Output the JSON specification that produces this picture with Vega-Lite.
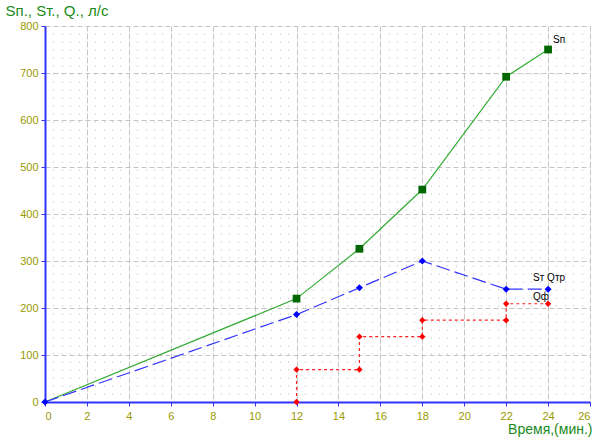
{
  "$schema": "https://vega.github.io/schema/vega-lite/v6.json",
  "width": 545,
  "height": 376,
  "autosize": {"type": "none"},
  "padding": {"left": 45, "top": 26, "right": 14, "bottom": 39},
  "background": "white",
  "config": {
    "view": {"stroke": null},
    "font": "Liberation Sans"
  },
  "resolve": {"axis": {"x": "independent"}},
  "datasets": {
    "pts": [
      {"series": "Sп", "order": 1, "t": 0, "v": 0, "marker": false},
      {"series": "Sп", "order": 2, "t": 12, "v": 220, "marker": true},
      {"series": "Sп", "order": 3, "t": 15, "v": 326, "marker": true},
      {"series": "Sп", "order": 4, "t": 18, "v": 452, "marker": true},
      {"series": "Sп", "order": 5, "t": 22, "v": 692, "marker": true},
      {"series": "Sп", "order": 6, "t": 24, "v": 750, "marker": true},
      {"series": "Sт", "order": 1, "t": 0, "v": 0, "marker": true},
      {"series": "Sт", "order": 2, "t": 12, "v": 186, "marker": true},
      {"series": "Sт", "order": 3, "t": 15, "v": 243, "marker": true},
      {"series": "Sт", "order": 4, "t": 18, "v": 300, "marker": true},
      {"series": "Sт", "order": 5, "t": 22, "v": 240, "marker": true},
      {"series": "Sт", "order": 6, "t": 24, "v": 240, "marker": true},
      {"series": "Qф", "order": 1, "t": 12, "v": 0, "marker": true},
      {"series": "Qф", "order": 2, "t": 12, "v": 69, "marker": true},
      {"series": "Qф", "order": 3, "t": 15, "v": 69, "marker": true},
      {"series": "Qф", "order": 4, "t": 15, "v": 139, "marker": true},
      {"series": "Qф", "order": 5, "t": 18, "v": 139, "marker": true},
      {"series": "Qф", "order": 6, "t": 18, "v": 174, "marker": true},
      {"series": "Qф", "order": 7, "t": 22, "v": 174, "marker": true},
      {"series": "Qф", "order": 8, "t": 22, "v": 209, "marker": true},
      {"series": "Qф", "order": 9, "t": 24, "v": 209, "marker": true}
    ],
    "labels": [
      {"t": 24, "v": 750, "text": "Sп"},
      {"t": 24, "v": 240, "text": "Sт Qтр"},
      {"t": 24, "v": 209, "text": "Qф"}
    ]
  },
  "layer": [
    {
      "data": {"name": "pts"},
      "mark": {"type": "line", "color": "#33aa33", "strokeWidth": 1.2},
      "transform": [{"filter": "datum.series === 'Sп'"}],
      "encoding": {
        "x": {"field": "t", "type": "quantitative", "scale": {"domain": [0, 26], "nice": false},
          "axis": {"values": [0,2,4,6,8,10,12,14,16,18,20,22,24,26], "title": "Время,(мин.)", "titleColor": "#1a8a1a", "titleFont": "Liberation Sans", "titleFontSize": 14, "titleFontWeight": "normal", "titleAnchor": "end", "titleAlign": "right", "titleBaseline": "alphabetic", "titleX": 547, "titleY": 31, "labelColor": "#999900", "labelFontSize": 11, "labelPadding": 4, "domainColor": "#3333ff", "domainWidth": 2, "tickColor": "#3333ff", "tickSize": 4, "grid": true, "gridColor": "#c4c4c4", "gridDash": [5, 3], "zindex": 0}},
        "y": {"field": "v", "type": "quantitative", "scale": {"domain": [0, 800], "nice": false},
          "axis": {"values": [0,100,200,300,400,500,600,700,800], "title": "Sп., Sт., Q., л/с", "titleColor": "#1a8a1a", "titleFontSize": 15, "titleFontWeight": "normal", "titleAngle": 0, "titleAlign": "left", "titleBaseline": "alphabetic", "titleX": -40, "titleY": -11, "labelColor": "#999900", "labelFontSize": 11, "labelPadding": 3, "domainColor": "#3333ff", "domainWidth": 2, "tickColor": "#3333ff", "tickSize": 4, "grid": true, "gridColor": "#c4c4c4", "gridDash": [5, 3]}},
        "order": {"field": "order", "type": "quantitative"}
      }
    },
    {
      "data": {"name": "pts"},
      "mark": {"type": "line", "color": "#3333ff", "strokeWidth": 1.2, "strokeDash": [14, 5]},
      "transform": [{"filter": "datum.series === 'Sт'"}],
      "encoding": {
        "x": {"field": "t", "type": "quantitative", "axis": {"orient": "top", "values": [0,0.4,0.8,1.2,1.6,2,2.4,2.8,3.2,3.6,4,4.4,4.8,5.2,5.6,6,6.4,6.8,7.2,7.6,8,8.4,8.8,9.2,9.6,10,10.4,10.8,11.2,11.6,12,12.4,12.8,13.2,13.6,14,14.4,14.8,15.2,15.6,16,16.4,16.8,17.2,17.6,18,18.4,18.8,19.2,19.6,20,20.4,20.8,21.2,21.6,22,22.4,22.8,23.2,23.6,24,24.4,24.8,25.2,25.6,26], "grid": true, "gridColor": "#b8b8b8", "gridDash": [1, 7], "gridWidth": 1, "labels": false, "ticks": false, "domain": false, "title": null, "zindex": 0}},
        "y": {"field": "v", "type": "quantitative"},
        "order": {"field": "order", "type": "quantitative"}
      }
    },
    {
      "data": {"name": "pts"},
      "mark": {"type": "line", "color": "#ff2222", "strokeWidth": 1.2, "strokeDash": [3, 3]},
      "transform": [{"filter": "datum.series === 'Qф'"}],
      "encoding": {
        "x": {"field": "t", "type": "quantitative", "axis": null},
        "y": {"field": "v", "type": "quantitative"},
        "order": {"field": "order", "type": "quantitative"}
      }
    },
    {
      "data": {"name": "pts"},
      "mark": {"type": "point", "shape": "diamond", "filled": true, "color": "#ff0000", "size": 40, "opacity": 1},
      "transform": [{"filter": "datum.series === 'Qф'"}],
      "encoding": {
        "x": {"field": "t", "type": "quantitative", "axis": null},
        "y": {"field": "v", "type": "quantitative"}
      }
    },
    {
      "data": {"name": "pts"},
      "mark": {"type": "point", "shape": "square", "filled": true, "color": "#006600", "size": 60, "opacity": 1},
      "transform": [{"filter": "datum.series === 'Sп' && datum.marker"}],
      "encoding": {
        "x": {"field": "t", "type": "quantitative", "axis": null},
        "y": {"field": "v", "type": "quantitative"}
      }
    },
    {
      "data": {"name": "pts"},
      "mark": {"type": "point", "shape": "diamond", "filled": true, "color": "#0000ff", "size": 50, "opacity": 1},
      "transform": [{"filter": "datum.series === 'Sт'"}],
      "encoding": {
        "x": {"field": "t", "type": "quantitative", "axis": null},
        "y": {"field": "v", "type": "quantitative"}
      }
    },
    {
      "data": {"name": "labels"},
      "transform": [{"filter": "datum.text === 'Sп'"}],
      "mark": {"type": "text", "color": "#000000", "fontSize": 10, "align": "left", "baseline": "middle", "dx": 5, "dy": -10},
      "encoding": {
        "x": {"field": "t", "type": "quantitative", "axis": null},
        "y": {"field": "v", "type": "quantitative"},
        "text": {"field": "text"}
      }
    },
    {
      "data": {"name": "labels"},
      "transform": [{"filter": "datum.text === 'Sт Qтр'"}],
      "mark": {"type": "text", "color": "#000000", "fontSize": 10, "align": "left", "baseline": "middle", "dx": -15, "dy": -11},
      "encoding": {
        "x": {"field": "t", "type": "quantitative", "axis": null},
        "y": {"field": "v", "type": "quantitative"},
        "text": {"field": "text"}
      }
    },
    {
      "data": {"name": "labels"},
      "transform": [{"filter": "datum.text === 'Qф'"}],
      "mark": {"type": "text", "color": "#000000", "fontSize": 10, "align": "left", "baseline": "middle", "dx": -15, "dy": -7},
      "encoding": {
        "x": {"field": "t", "type": "quantitative", "axis": null},
        "y": {"field": "v", "type": "quantitative"},
        "text": {"field": "text"}
      }
    }
  ]
}
